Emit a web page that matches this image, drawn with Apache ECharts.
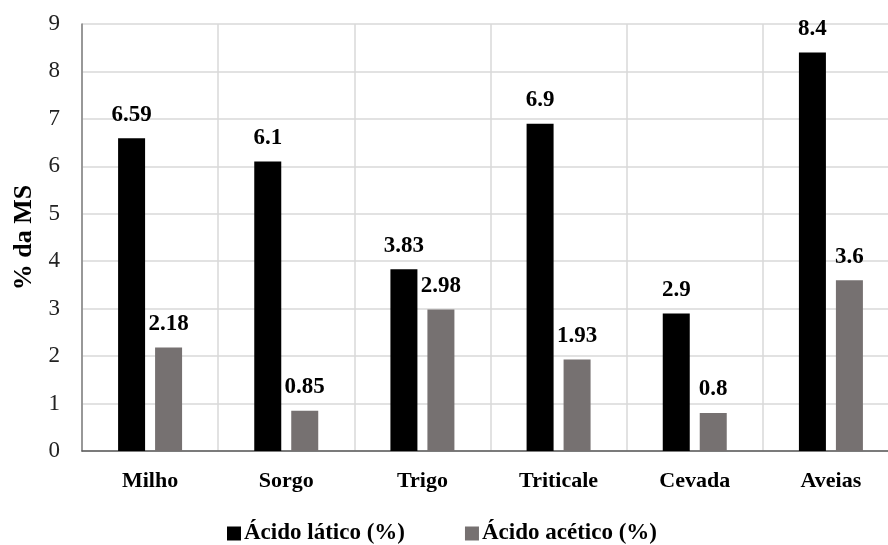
<!DOCTYPE html>
<html>
<head>
<meta charset="utf-8">
<script src="https://cdn.jsdelivr.net/npm/echarts@6/dist/echarts.min.js"></script>
<style>
  html, body { margin: 0; padding: 0; background: #fff; }
  #chart { width: 888px; height: 545px; }
</style>
</head>
<body>
<div id="chart"></div>
<script>
const categories = ['Milho', 'Sorgo', 'Trigo', 'Triticale', 'Cevada', 'Aveias'];
const acidoLatico = [6.59, 6.1, 3.83, 6.9, 2.9, 8.4];
const acidoAcetico = [2.18, 0.85, 2.98, 1.93, 0.8, 3.6];
const yTicks = [0, 1, 2, 3, 4, 5, 6, 7, 8, 9];

const serif = '"Liberation Serif", "Times New Roman", serif';

const valueLabel = {
  show: true,
  position: 'top',
  distance: 12,
  fontFamily: serif,
  fontWeight: 'bold',
  fontSize: 23,
  color: '#000'
};

const chart = echarts.init(document.getElementById('chart'));
chart.setOption({
  animation: false,
  backgroundColor: '#fff',
  grid: {
    left: 82, top: 24, width: 817, height: 427,
    containLabel: false,
    outerBoundsMode: 'none'
  },
  legend: {
    top: 517,
    left: 222,
    itemWidth: 14,
    itemHeight: 14,
    itemGap: 60,
    icon: 'rect',
    textStyle: { fontFamily: serif, fontWeight: 'bold', fontSize: 23, color: '#000', padding: [0, 0, 0, -2] },
    data: ['Ácido lático (%)', 'Ácido acético (%)']
  },
  xAxis: {
    type: 'category',
    data: categories,
    axisLine: { lineStyle: { color: '#595959', width: 1.5 } },
    axisTick: { show: false },
    splitLine: { show: true, lineStyle: { color: '#d9d9d9', width: 1.5 } },
    axisLabel: { fontFamily: serif, fontWeight: 'bold', fontSize: 22, color: '#000', margin: 19 }
  },
  yAxis: {
    type: 'value',
    min: yTicks[0],
    max: yTicks[yTicks.length - 1],
    interval: 1,
    name: '% da MS',
    nameLocation: 'middle',
    nameGap: 43,
    nameTextStyle: { fontFamily: serif, fontWeight: 'bold', fontSize: 26, color: '#000' },
    axisLine: { show: true, lineStyle: { color: '#7f7f7f', width: 1.5 } },
    axisTick: { show: false },
    splitLine: { show: true, lineStyle: { color: '#d9d9d9', width: 1.5 } },
    axisLabel: { fontFamily: serif, fontSize: 23, color: '#222', margin: 22 }
  },
  series: [
    {
      name: 'Ácido lático (%)',
      type: 'bar',
      data: acidoLatico,
      barWidth: 27,
      barGap: '37%',
      itemStyle: { color: '#000' },
      label: valueLabel
    },
    {
      name: 'Ácido acético (%)',
      type: 'bar',
      data: acidoAcetico,
      barWidth: 27,
      itemStyle: { color: '#767171' },
      label: valueLabel
    }
  ]
});
</script>
</body>
</html>
